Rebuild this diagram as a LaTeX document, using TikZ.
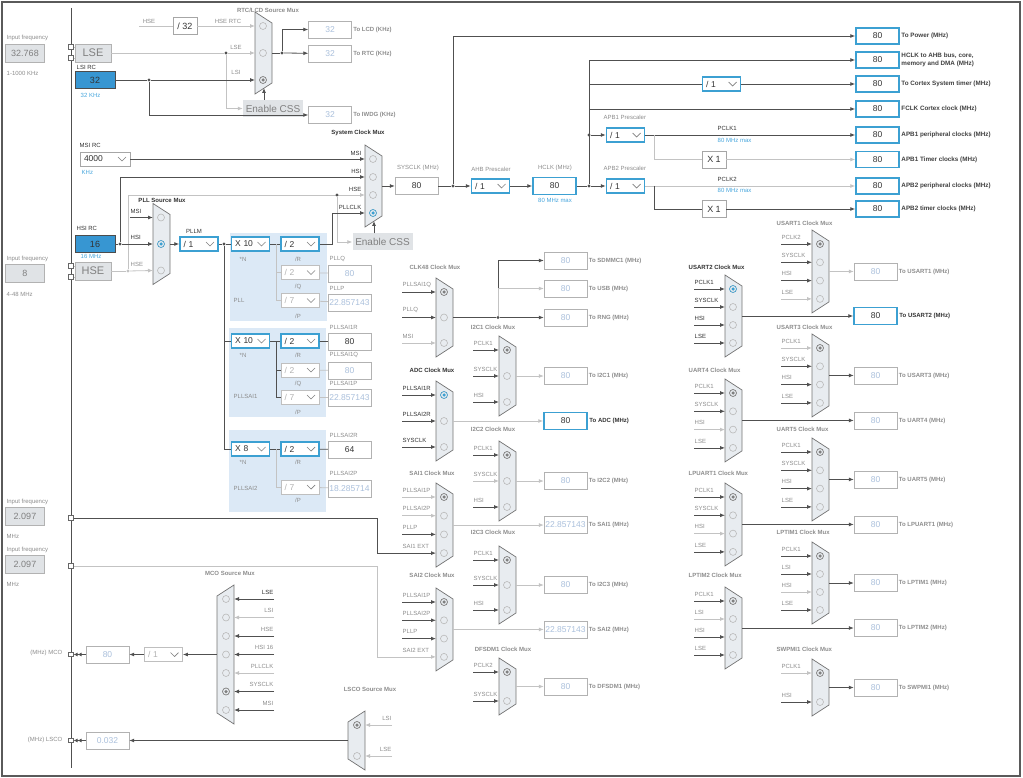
\documentclass[tikz,border=0pt]{standalone}
\usepackage{fontspec}
\setmainfont{Liberation Sans}
\usetikzlibrary{arrows.meta,positioning,calc}

\definecolor{wd}{RGB}{80,80,80}
\definecolor{wl}{RGB}{195,195,195}
\definecolor{labd}{RGB}{50,50,50}
\definecolor{labl}{RGB}{140,140,140}
\definecolor{valc}{RGB}{170,192,220}
\definecolor{blueb}{RGB}{60,160,210}
\definecolor{bluef}{RGB}{55,150,210}
\definecolor{bluet}{RGB}{70,165,220}
\definecolor{muxf}{RGB}{232,236,240}
\definecolor{boxg}{RGB}{224,227,230}
\definecolor{pllbg}{RGB}{220,233,246}
\definecolor{framec}{RGB}{90,90,90}

\newcommand{\fs}[1]{\fontsize{#1}{#1}\selectfont}

\tikzset{
  wire/.style={draw=wd, line width=0.8pt},
  wirel/.style={draw=wl, line width=0.8pt},
  w-d/.style={wire}, w-m/.style={wire}, w-l/.style={wirel},
  lab/.style={font=\fs{6}, inner sep=0.5pt},
  t-d/.style={text=labd}, t-m/.style={text=labl}, t-l/.style={text=labl},
  blab/.style={font=\fs{6}, text=bluet, inner sep=0.5pt},
  mtitle/.style={font=\fs{6}\bfseries, text=labl, inner sep=0.5pt},
  olab/.style={font=\fs{6}\bfseries, text=labl, inner sep=0.5pt},
  rlab/.style={font=\fontsize{6.3}{7.6}\selectfont\bfseries, text=black!75, inner sep=0.5pt, align=left},
  muxshape/.style={draw=black!55, fill=muxf, line width=0.7pt},
  radio/.style={circle, draw=gray!55, line width=0.6pt, minimum size=7pt, inner sep=0pt},
  radiodot/.style={circle, minimum size=3.5pt, inner sep=0pt},
  jdot/.style={circle, fill=wd, minimum size=3.2pt, inner sep=0pt},
  pinsq/.style={rectangle, draw=black!60, fill=white, minimum size=4.5pt, inner sep=0pt, line width=0.6pt},
  valbox/.style={draw=gray!60, fill=white, minimum width=43pt, minimum height=17pt, inner sep=0pt, font=\fs{8.5}, text=valc},
  valon/.style={valbox, text=black!80},
  valblue/.style={valbox, draw=blueb, line width=1.5pt, text=black!80},
  outblue/.style={valblue, minimum height=16pt},
  dd/.style={draw=blueb, line width=1.5pt, fill=white, minimum width=38pt, minimum height=14pt,
    inner sep=0pt, text width=31pt, align=left, font=\fs{8.5}, text=black!80,
    path picture={\draw[line width=0.7pt, draw=gray] ([xshift=-12pt,yshift=2pt]path picture bounding box.east) -- ++(4,4) -- ++(4,-4);}},
  ddg/.style={dd, draw=gray!50, line width=0.8pt, text=gray!60},
  srcbox/.style={draw=gray!60, fill=boxg, minimum width=36pt, minimum height=18pt, inner sep=0pt, font=\fs{11}, text=gray},
  inbox/.style={draw=gray!60, fill=boxg, minimum width=39pt, minimum height=18pt, inner sep=0pt, font=\fs{9}, text=gray},
  rcbox/.style={draw=black!70, fill=bluef, line width=0.8pt, minimum width=40pt, minimum height=17pt, inner sep=0pt, font=\fs{9}, text=black!80},
  cssbox/.style={fill=boxg, minimum width=60pt, minimum height=17pt, inner sep=0pt, font=\fs{10}, text=gray},
  plainbox/.style={draw=gray!70, fill=white, minimum width=24pt, minimum height=17pt, inner sep=0pt, font=\fs{9}, text=black!80},
  pllblk/.style={fill=pllbg, inner sep=0pt},
  frame/.style={draw=framec, line width=2.5pt, inner sep=0pt},
  dbl/.style={-{Latex[length=4pt,width=4pt]Latex[length=4pt,width=4pt]}},
}

% mux: name, left x, first input y, pitch, inputs, selected, dot colour
\newcommand{\muxbody}[7]{%
  \pgfmathsetmacro\mxT{#3-14}%
  \pgfmathsetmacro\mxB{#3+(#5-1)*#4+14}%
  \pgfmathsetmacro\mxM{(\mxT+\mxB)/2}%
  \draw[muxshape] (#2,\mxT) -- ({#2+17},{\mxT+11}) -- ({#2+17},{\mxB-11}) -- (#2,\mxB) -- cycle;
  \coordinate (#1) at ({#2+17},\mxM);
  \coordinate (#1-b) at ({#2+9},{\mxB-6});
  \foreach \i in {1,...,#5}{%
    \pgfmathsetmacro\mxY{#3+(\i-1)*#4}%
    \coordinate (#1-\i) at (#2,\mxY);
    \node[radio] (#1-r\i) at ({#2+8},\mxY) {};
  }
  \pgfmathsetmacro\mxS{#3+(#6-1)*#4}%
  \node[radio, draw=#7] (#1-sel) at ({#2+8},\mxS) {};
  \node[radiodot, fill=#7] (#1-dot) at ({#2+8},\mxS) {};
}
% same, output on the left
\newcommand{\muxbodyL}[7]{%
  \pgfmathsetmacro\mxT{#3-14}%
  \pgfmathsetmacro\mxB{#3+(#5-1)*#4+14}%
  \pgfmathsetmacro\mxM{(\mxT+\mxB)/2}%
  \draw[muxshape] ({#2+17},\mxT) -- ({#2+17},\mxB) -- (#2,{\mxB-11}) -- (#2,{\mxT+11}) -- cycle;
  \coordinate (#1) at (#2,\mxM);
  \foreach \i in {1,...,#5}{%
    \pgfmathsetmacro\mxY{#3+(\i-1)*#4}%
    \coordinate (#1-\i) at ({#2+17},\mxY);
    \node[radio] (#1-r\i) at ({#2+9},\mxY) {};
  }
  \pgfmathsetmacro\mxS{#3+(#6-1)*#4}%
  \node[radio, draw=#7] (#1-sel) at ({#2+9},\mxS) {};
  \node[radiodot, fill=#7] (#1-dot) at ({#2+9},\mxS) {};
}
% input stubs: mux, length, label/kind list
\newcommand{\muxins}[3]{%
  \foreach \lab/\kd [count=\i] in {#3}{%
    \coordinate (#1-s\i) at ($(#1-\i)+(-#2,0)$);
    \draw[->, w-\kd] (#1-s\i) -- (#1-\i);
    \node[lab, t-\kd, anchor=south west] (#1-t\i) at ($(#1-s\i)+(0,-4)$) {\lab};
  }}
\newcommand{\muxinsL}[3]{%
  \foreach \lab/\kd [count=\i] in {#3}{%
    \coordinate (#1-s\i) at ($(#1-\i)+(#2,0)$);
    \draw[->, w-\kd] (#1-s\i) -- (#1-\i);
    \node[lab, t-\kd, anchor=south east] (#1-t\i) at ($(#1-s\i)+(0,-4)$) {\lab};
  }}
% output box: mux, x column, box style, value, text, wire style
\newcommand{\outto}[6]{%
  \node[#3] (#1box) at (#1 -| #2) {#4};
  \node[olab, right=1pt of #1box] (#1lab) {#5};
  \draw[->, #6] (#1) -- (#1box);}

\begin{document}
\begin{tikzpicture}[x=1pt, y=-1pt, >={Latex[length=5pt,width=4pt]}]
\useasboundingbox (0,0) rectangle (1023,778);
\node[frame, minimum width=1018pt, minimum height=774pt] (border) at (511,389) {};
\coordinate (bustop) at (71,8);
\coordinate (busbot) at (71,768);
\draw[wire] (bustop) -- (busbot);

% pll blocks
\node[pllblk, minimum width=97pt, minimum height=88pt] (pllbg1) at (278.5,277) {};
\node[pllblk, minimum width=97pt, minimum height=89pt] (pllbg2) at (277.5,372.5) {};
\node[pllblk, minimum width=97pt, minimum height=82pt] (pllbg3) at (277.5,471) {};

% left column
\node[lab, t-l, anchor=west] (lsefl) at (6,38) {Input frequency};
\node[inbox] (lsefreq) at (25,53) {32.768};
\node[lab, t-l, anchor=west] (lser) at (6,73) {1-1000 KHz};
\node[srcbox] (lse) at (93,53) {LSE};
\node[pinsq] (lsep1) at (71,47) {};
\node[pinsq] (lsep2) at (71,58) {};
\node[lab, t-d, anchor=west] (lsirct) at (76,67) {LSI RC};
\node[rcbox] (lsi) at (95,80) {32};
\node[blab, anchor=west] (lsik) at (80,95) {32 KHz};
\node[lab, t-d, anchor=west] (msirct) at (79,145) {MSI RC};
\node[ddg, minimum width=50pt, text width=42pt, draw=gray!70, text=black!80] (msi) at (105,159) {4000};
\node[blab, anchor=west] (msik) at (81,172) {KHz};
\node[lab, t-d, anchor=west] (hsirct) at (76,228) {HSI RC};
\node[rcbox] (hsi) at (95,244) {16};
\node[blab, anchor=west] (hsim) at (80,256) {16 MHz};
\node[lab, t-l, anchor=west] (hsefl) at (6,259) {Input frequency};
\node[inbox] (hsefreq) at (25,273) {8};
\node[lab, t-l, anchor=west] (hser) at (6,294) {4-48 MHz};
\node[srcbox] (hse) at (93,271) {HSE};
\node[pinsq] (hsep1) at (71,266) {};
\node[pinsq] (hsep2) at (71,277) {};
\node[lab, t-l, anchor=west] (ext1l) at (6,502) {Input frequency};
\node[inbox] (ext1) at (25,516) {2.097};
\node[lab, t-l, anchor=west] (ext1u) at (6,536) {MHz};
\node[pinsq] (ext1p) at (71,518) {};
\node[lab, t-l, anchor=west] (ext2l) at (6,550) {Input frequency};
\node[inbox] (ext2) at (25,564.5) {2.097};
\node[lab, t-l, anchor=west] (ext2u) at (6,584) {MHz};
\node[pinsq] (ext2p) at (71,566) {};

% RTC / LCD
\node[mtitle] (rtct) at (268,10) {RTC/LCD Source Mux};
\muxbody{rtcmux}{255}{26}{27}{3}{3}{gray}
\node[lab, t-l] (hsel) at (149,21) {HSE};
\coordinate (hsein) at (139,26);
\node[plainbox] (div32) at (185,26) {/ 32};
\node[lab, t-l] (hsertc) at (228,21) {HSE RTC};
\node[lab, t-l] (lsel) at (236,47) {LSE};
\node[lab, t-l] (lsil) at (236,72) {LSI};
\node[jdot] (lsej) at (226,53) {};
\node[jdot] (lsij) at (149,80) {};
\node[cssbox] (css1) at (273,108.5) {Enable CSS};
\node[valbox] (iwdg) at (330,115) {32};
\node[olab, right=1pt of iwdg] (iwdgl) {To IWDG (KHz)};
\node[jdot] (rtcj) at (282,53) {};
\node[valbox] (lcd) at (330,29.5) {32};
\node[olab, right=1pt of lcd] (lcdl) {To LCD (KHz)};
\node[valbox] (rtc) at (330,53.5) {32};
\node[olab, right=1pt of rtc] (rtcl) {To RTC (KHz)};
\draw[wirel] (lsep1) -- (lsep1 -| lse.west);
\draw[wirel] (lsep2) -- (lsep2 -| lse.west);
\draw[wirel] (hsein) -- (div32);
\draw[->, wirel] (div32) -- (rtcmux-1);
\draw[wirel] (lse) -- (lsej);
\draw[->, wirel] (lsej) -- (rtcmux-2);
\draw[->, wirel] (lsej) |- (css1);
\draw[wire] (lsi) -- (lsij);
\draw[->, wire] (lsij) -- (rtcmux-3);
\draw[->, wire] (lsij) |- (iwdg);
\draw[->, wire] (css1.north -| rtcmux-b) -- (rtcmux-b);
\draw[wire] (rtcmux) -- (rtcj);
\draw[->, wire] (rtcj) |- (lcd);
\draw[->, wire] (rtcj) -- (rtc);

% system clock mux
\node[mtitle, text=labd] (syst) at (358,133) {System Clock Mux};
\muxbody{sysmux}{365}{159}{18}{4}{4}{blueb}
\foreach \lab [count=\i] in {MSI,HSI,HSE,PLLCLK}
  \node[lab, t-d, anchor=south east] (sysmux-t\i) at ($(sysmux-\i)+(-3,-3)$) {\lab};
\draw[->, wire] (msi) -- (sysmux-1);
\node[jdot] (hsij) at (120,244) {};
\node[jdot, fill=wl] (hsej) at (128,271) {};
\draw[wire] (hsi) -- (hsij);
\draw[->, wire] (hsij) |- (sysmux-2);
\draw[wirel] (hsep1) -- (hsep1 -| hse.west);
\draw[wirel] (hsep2) -- (hsep2 -| hse.west);
\draw[wirel] (hse) -- (hsej);
\draw[->, wirel] (hsej) |- (sysmux-3);
\node[jdot] (cssj) at (337,195) {};
\node[cssbox] (css2) at (382.5,242) {Enable CSS};
\draw[->, wirel] (cssj) |- (css2);
\draw[->, wire] (css2.north -| sysmux-b) -- (sysmux-b);

% pll source and plls
\node[mtitle, text=labd] (pllsrct) at (162,200) {PLL Source Mux};
\muxbody{pllsrc}{153}{217.5}{26.5}{3}{2}{blueb}
\coordinate (msis) at (130,217.5);
\node[lab, t-d, anchor=south west] (pllsrc-t1) at (130,214) {MSI};
\node[lab, t-d, anchor=south west] (pllsrc-t2) at (130,240) {HSI};
\node[lab, t-l, anchor=south west] (pllsrc-t3) at (130,267) {HSE};
\draw[->, wire] (msis) -- (pllsrc-1);
\draw[->, wire] (hsij) -- (pllsrc-2);
\draw[->, wirel] (hsej) -- (pllsrc-3);
\node[lab, t-d] (pllmt) at (194,231) {PLLM};
\node[dd] (pllm) at (199,244) {/ 1};
\node[jdot] (nj) at (224,244) {};
\draw[->, wire] (pllsrc) -- (pllm);
\draw[wire] (pllm) -- (nj);

\node[dd] (plln) at (250.5,244) {X 10};
\node[dd] (pllr) at (300,244) {/ 2};
\node[ddg] (pllq) at (300,272.5) {/ 2};
\node[ddg] (pllp) at (300,300.5) {/ 7};
\node[lab, t-l] (pllnl) at (243,259) {*N};
\node[lab, t-l] (pllrl) at (298,259) {/R};
\node[lab, t-l] (pllql) at (298,287) {/Q};
\node[lab, t-l] (pllpl) at (298,316) {/P};
\node[lab, t-l, anchor=west] (pllname) at (233,300) {PLL};
\node[lab, t-l, anchor=west] (pllqt) at (329,259) {PLLQ};
\node[valbox] (pllqv) at (349.5,273.5) {80};
\node[lab, t-l, anchor=west] (pllpt) at (329,288) {PLLP};
\node[valbox] (pllpv) at (349.5,302.5) {22.857143};
\coordinate (pj) at (276,244);
\draw[wire] (nj) -- (plln);
\draw[wire] (plln) -- (pllr);
\draw[wirel] (pj) |- (pllq);
\draw[wirel] (pj) |- (pllp);
\draw[wirel] (pllq) -- (pllqv);
\draw[wirel] (pllp) -- (pllpv);
\draw[->, wire] (pllr.east) -- ++(13,0) |- (sysmux-4);

\node[dd] (sai1n) at (250.5,341) {X 10};
\node[dd] (sai1r) at (300,341) {/ 2};
\node[ddg] (sai1q) at (300,370) {/ 2};
\node[ddg] (sai1p) at (300,397) {/ 7};
\node[lab, t-l] (sai1nl) at (243,355) {*N};
\node[lab, t-l] (sai1rl) at (298,355) {/R};
\node[lab, t-l] (sai1ql) at (298,384) {/Q};
\node[lab, t-l] (sai1pl) at (298,412) {/P};
\node[lab, t-l, anchor=west] (sai1name) at (233,396) {PLLSAI1};
\node[lab, t-l, anchor=west] (sai1rt) at (329,327) {PLLSAI1R};
\node[valon] (sai1rv) at (349.5,342) {80};
\node[lab, t-l, anchor=west] (sai1qt) at (329,355) {PLLSAI1Q};
\node[valbox] (sai1qv) at (349.5,370.5) {80};
\node[lab, t-l, anchor=west] (sai1pt) at (329,383) {PLLSAI1P};
\node[valbox] (sai1pv) at (349.5,398) {22.857143};
\coordinate (s1j) at (276,341);
\draw[wire] (nj) |- (sai1n);
\draw[wire] (sai1n) -- (sai1r);
\draw[wire] (s1j) |- (sai1q);
\draw[wire] (s1j) |- (sai1p);
\draw[wire] (sai1r) -- (sai1rv);
\draw[wirel] (sai1q) -- (sai1qv);
\draw[wirel] (sai1p) -- (sai1pv);

\node[dd] (sai2n) at (250.5,449) {X 8};
\node[dd] (sai2r) at (300,449) {/ 2};
\node[ddg] (sai2p) at (300,487) {/ 7};
\node[lab, t-l] (sai2nl) at (243,462) {*N};
\node[lab, t-l] (sai2rl) at (298,462) {/R};
\node[lab, t-l] (sai2pl) at (298,500) {/P};
\node[lab, t-l, anchor=west] (sai2name) at (233,488) {PLLSAI2};
\node[lab, t-l, anchor=west] (sai2rt) at (329,435) {PLLSAI2R};
\node[valon] (sai2rv) at (349.5,449.5) {64};
\node[lab, t-l, anchor=west] (sai2pt) at (329,473) {PLLSAI2P};
\node[valbox] (sai2pv) at (349.5,488.5) {18.285714};
\coordinate (s2j) at (276,449);
\draw[wire] (nj) |- (sai2n);
\draw[wire] (sai2n) -- (sai2r);
\draw[wirel] (s2j) |- (sai2p);
\draw[wire] (sai2r) -- (sai2rv);
\draw[wirel] (sai2p) -- (sai2pv);

% sysclk, ahb, apb
\node[lab, t-l] (sysclkt) at (418,168) {SYSCLK (MHz)};
\node[valon] (sysclk) at (416.5,186) {80};
\node[jdot] (sj) at (453,186) {};
\node[lab, t-l] (ahbt) at (491,169) {AHB Prescaler};
\node[dd] (ahbdd) at (490.5,186) {/ 1};
\node[lab, t-l] (hclkt) at (555,168) {HCLK (MHz)};
\node[valblue] (hclk) at (554.5,186) {80};
\node[blab] (hclkm) at (555,200) {80 MHz max};
\node[jdot] (hj) at (589,186) {};
\node[jdot] (hj2) at (589,135) {};
\node[lab, t-l, anchor=west] (apb1t) at (603,117) {APB1 Prescaler};
\node[dd] (apb1dd) at (625.5,135) {/ 1};
\node[lab, t-l, anchor=west] (apb2t) at (603,168) {APB2 Prescaler};
\node[dd] (apb2dd) at (625.5,186) {/ 1};
\node[dd] (cortexdd) at (721.5,84) {/ 1};
\node[plainbox] (tim1x) at (714,159.5) {X 1};
\node[plainbox] (tim2x) at (714,209) {X 1};
\node[lab, t-d, anchor=west] (pclk1t) at (717,128) {PCLK1};
\node[blab, anchor=west] (pclk1m) at (717,140) {80 MHz max};
\node[lab, t-d, anchor=west] (pclk2t) at (717,179) {PCLK2};
\node[blab, anchor=west] (pclk2m) at (717,190) {80 MHz max};

\node[outblue] (power) at (877.5,36) {80};
\node[outblue] (ahbbus) at (877.5,60) {80};
\node[outblue] (cortex) at (877.5,84) {80};
\node[outblue] (fclk) at (877.5,109) {80};
\node[outblue] (pclk1) at (877.5,135) {80};
\node[outblue] (apb1tim) at (877.5,159.5) {80};
\node[outblue] (pclk2) at (877.5,186) {80};
\node[outblue] (apb2tim) at (877.5,209) {80};
\node[rlab, right=1pt of power] (powerl) {To Power (MHz)};
\node[rlab, right=1pt of ahbbus] (ahbbusl) {HCLK to AHB bus, core,\\memory and DMA (MHz)};
\node[rlab, right=1pt of cortex] (cortexl) {To Cortex System timer (MHz)};
\node[rlab, right=1pt of fclk] (fclkl) {FCLK Cortex clock (MHz)};
\node[rlab, right=1pt of pclk1] (pclk1l) {APB1 peripheral clocks (MHz)};
\node[rlab, right=1pt of apb1tim] (apb1timl) {APB1 Timer clocks (MHz)};
\node[rlab, right=1pt of pclk2] (pclk2l) {APB2 peripheral clocks (MHz)};
\node[rlab, right=1pt of apb2tim] (apb2timl) {APB2 timer clocks (MHz)};

\coordinate (a1j) at (654,135);
\coordinate (a2j) at (654,186);
\draw[->, wire] (sysmux) -- (sysclk);
\draw[wire] (sysclk) -- (sj);
\draw[->, wire] (sj) -- (ahbdd);
\draw[->, wire] (sj) |- (power);
\draw[->, wire] (ahbdd) -- (hclk);
\draw[wire] (hclk) -- (hj);
\draw[->, wire] (hj) -- (apb2dd);
\draw[->, wire] (hj) |- (ahbbus);
\draw[wire] (hj) |- (cortexdd);
\draw[->, wire] (cortexdd) -- (cortex);
\draw[->, wire] (hj) |- (fclk);
\draw[->, wire] (hj2) -- (apb1dd);
\draw[->, wire] (apb1dd) -- (pclk1);
\draw[wirel] (a1j) |- (tim1x);
\draw[->, wirel] (tim1x) -- (apb1tim);
\draw[->, wirel] (apb2dd) -- (pclk2);
\draw[wire] (a2j) |- (tim2x);
\draw[->, wire] (tim2x) -- (apb2tim);

% middle column
\coordinate (mx) at (565.5,0);
\node[mtitle] (clk48t) at (435,267) {CLK48 Clock Mux};
\muxbody{clk48}{436}{292}{25.5}{3}{1}{gray}
\muxins{clk48}{34}{PLLSAI1Q/m, PLLQ/m, MSI/l}
\node[jdot] (c48j) at (498,317.5) {};
\node[valbox] (sdmmc) at (565.5,260.5) {80};
\node[olab, right=1pt of sdmmc] (sdmmcl) {To SDMMC1 (MHz)};
\node[valbox] (usb) at (565.5,288.5) {80};
\node[olab, right=1pt of usb] (usbl) {To USB (MHz)};
\node[valbox] (rng) at (clk48 -| mx) {80};
\node[olab, right=1pt of rng] (rngl) {To RNG (MHz)};
\draw[wire] (clk48) -- (c48j);
\draw[->, wire] (c48j) |- (sdmmc);
\draw[->, wirel] (c48j) |- (usb);
\draw[->, wire] (c48j) -- (rng);

\node[mtitle] (i2c1t) at (493,327) {I2C1 Clock Mux};
\muxbody{i2c1}{499}{350}{26}{3}{1}{gray}
\muxins{i2c1}{26}{PCLK1/m, SYSCLK/m, HSI/m}
\outto{i2c1}{mx}{valbox}{80}{To I2C1 (MHz)}{wirel}

\node[mtitle, text=labd] (adct) at (432,370) {ADC Clock Mux};
\muxbody{adc}{436}{395}{26}{3}{1}{blueb}
\muxins{adc}{34}{PLLSAI1R/d, PLLSAI2R/d, SYSCLK/d}
\outto{adc}{mx}{valblue}{80}{\textcolor{labd}{To ADC (MHz)}}{wirel}

\node[mtitle] (i2c2t) at (493,429) {I2C2 Clock Mux};
\muxbody{i2c2}{499}{455}{26}{3}{1}{gray}
\muxins{i2c2}{26}{PCLK1/m, SYSCLK/l, HSI/m}
\outto{i2c2}{mx}{valbox}{80}{To I2C2 (MHz)}{wirel}

\node[mtitle] (sai1t) at (432,473) {SAI1 Clock Mux};
\muxbody{sai1}{436}{497}{18.7}{4}{1}{gray}
\muxins{sai1}{34}{PLLSAI1P/l, PLLSAI2P/l, PLLP/m}
\node[lab, t-l, anchor=south west] (sai1-t4) at ($(sai1-4)+(-34,-4)$) {SAI1 EXT};
\draw[->, wire] (ext1p) -| ($(sai1-4)+(-59,0)$) -- (sai1-4);
\outto{sai1}{mx}{valbox}{22.857143}{To SAI1 (MHz)}{wirel}

\node[mtitle] (i2c3t) at (493,532) {I2C3 Clock Mux};
\muxbody{i2c3}{499}{560}{25}{3}{1}{gray}
\muxins{i2c3}{26}{PCLK1/m, SYSCLK/m, HSI/m}
\outto{i2c3}{mx}{valbox}{80}{To I2C3 (MHz)}{wirel}

\node[mtitle] (sai2t) at (432,575) {SAI2 Clock Mux};
\muxbody{sai2}{436}{602}{18.3}{4}{1}{gray}
\muxins{sai2}{34}{PLLSAI1P/m, PLLSAI2P/m, PLLP/m}
\node[lab, t-l, anchor=south west] (sai2-t4) at ($(sai2-4)+(-34,-4)$) {SAI2 EXT};
\draw[->, wirel] (ext2p) -| ($(sai2-4)+(-59,0)$) -- (sai2-4);
\outto{sai2}{mx}{valbox}{22.857143}{To SAI2 (MHz)}{wirel}

\node[mtitle] (dfsdmt) at (503,649) {DFSDM1 Clock Mux};
\muxbody{dfsdm}{499}{672}{29}{2}{1}{gray}
\muxins{dfsdm}{26}{PCLK2/m, SYSCLK/m}
\outto{dfsdm}{mx}{valbox}{80}{To DFSDM1 (MHz)}{wirel}

% right column
\coordinate (px) at (875.5,0);
\node[mtitle, anchor=west] (usart1t) at (776,223) {USART1 Clock Mux};
\muxbody{usart1}{812}{244}{18.3}{4}{1}{gray}
\muxins{usart1}{31}{PCLK2/m, SYSCLK/m, HSI/m, LSE/l}
\outto{usart1}{px}{valbox}{80}{To USART1 (MHz)}{wirel}

\node[mtitle, text=labd, anchor=west] (usart2t) at (688,267) {USART2 Clock Mux};
\muxbody{usart2}{725}{289}{18}{4}{1}{blueb}
\muxins{usart2}{31}{PCLK1/d, SYSCLK/d, HSI/d, LSE/d}
\outto{usart2}{px}{valblue}{80}{\textcolor{labd}{To USART2 (MHz)}}{wire}

\node[mtitle, anchor=west] (usart3t) at (776,327) {USART3 Clock Mux};
\muxbody{usart3}{812}{348}{18.3}{4}{1}{gray}
\muxins{usart3}{31}{PCLK1/l, SYSCLK/m, HSI/m, LSE/m}
\outto{usart3}{px}{valbox}{80}{To USART3 (MHz)}{wire}

\node[mtitle, anchor=west] (uart4t) at (688,370) {UART4 Clock Mux};
\muxbody{uart4}{725}{393}{18.3}{4}{1}{gray}
\muxins{uart4}{31}{PCLK1/m, SYSCLK/m, HSI/l, LSE/m}
\outto{uart4}{px}{valbox}{80}{To UART4 (MHz)}{wire}

\node[mtitle, anchor=west] (uart5t) at (776,429) {UART5 Clock Mux};
\muxbody{uart5}{812}{452}{18.3}{4}{1}{gray}
\muxins{uart5}{31}{PCLK1/m, SYSCLK/m, HSI/m, LSE/m}
\outto{uart5}{px}{valbox}{80}{To UART5 (MHz)}{wire}

\node[mtitle, anchor=west] (lpuart1t) at (688,473) {LPUART1 Clock Mux};
\muxbody{lpuart1}{725}{497}{18.3}{4}{1}{gray}
\muxins{lpuart1}{31}{PCLK1/m, SYSCLK/m, HSI/l, LSE/m}
\outto{lpuart1}{px}{valbox}{80}{To LPUART1 (MHz)}{wire}

\node[mtitle, anchor=west] (lptim1t) at (776,532) {LPTIM1 Clock Mux};
\muxbody{lptim1}{812}{556}{18}{4}{1}{gray}
\muxins{lptim1}{31}{PCLK1/m, LSI/m, HSI/l, LSE/m}
\outto{lptim1}{px}{valbox}{80}{To LPTIM1 (MHz)}{wire}

\node[mtitle, anchor=west] (lptim2t) at (688,575) {LPTIM2 Clock Mux};
\muxbody{lptim2}{725}{601}{18}{4}{1}{gray}
\muxins{lptim2}{31}{PCLK1/m, LSI/l, HSI/m, LSE/m}
\outto{lptim2}{px}{valbox}{80}{To LPTIM2 (MHz)}{wire}

\node[mtitle, anchor=west] (swpmi1t) at (776,649) {SWPMI1 Clock Mux};
\muxbody{swpmi1}{812}{673}{29}{2}{1}{gray}
\muxins{swpmi1}{31}{PCLK1/l, HSI/m}
\outto{swpmi1}{px}{valbox}{80}{To SWPMI1 (MHz)}{wire}

% MCO and LSCO
\node[lab, t-l, anchor=east] (mcot) at (63,653) {(MHz) MCO};
\node[pinsq] (mcop) at (71,654.5) {};
\node[valbox] (mcobox) at (107.5,654.5) {80};
\node[ddg] (mcodiv) at (163.5,654.5) {/ 1};
\node[mtitle] (mcotl) at (230,573) {MCO Source Mux};
\muxbodyL{mco}{217}{599}{18.5}{7}{6}{gray}
\muxinsL{mco}{40}{LSE/d, LSI/l, HSE/m, HSI 16/m, PLLCLK/l, SYSCLK/m, MSI/m}
\draw[->, wire] (mco) -- (mcodiv);
\draw[->, wire] (mcodiv) -- (mcobox);
\draw[dbl, wire] (mcobox) -- (mcop);

\node[lab, t-l, anchor=east] (lscot) at (63,740) {(MHz) LSCO};
\node[pinsq] (lscop) at (71,740.5) {};
\node[valbox] (lscobox) at (107.5,740.5) {0.032};
\node[mtitle] (lscotl) at (370,689) {LSCO Source Mux};
\muxbodyL{lsco}{348}{725}{31}{2}{1}{gray}
\muxinsL{lsco}{27}{LSI/l, LSE/l}
\draw[->, wire] (lsco) -- (lscobox);
\draw[dbl, wire] (lscobox) -- (lscop);
\end{tikzpicture}
\end{document}
